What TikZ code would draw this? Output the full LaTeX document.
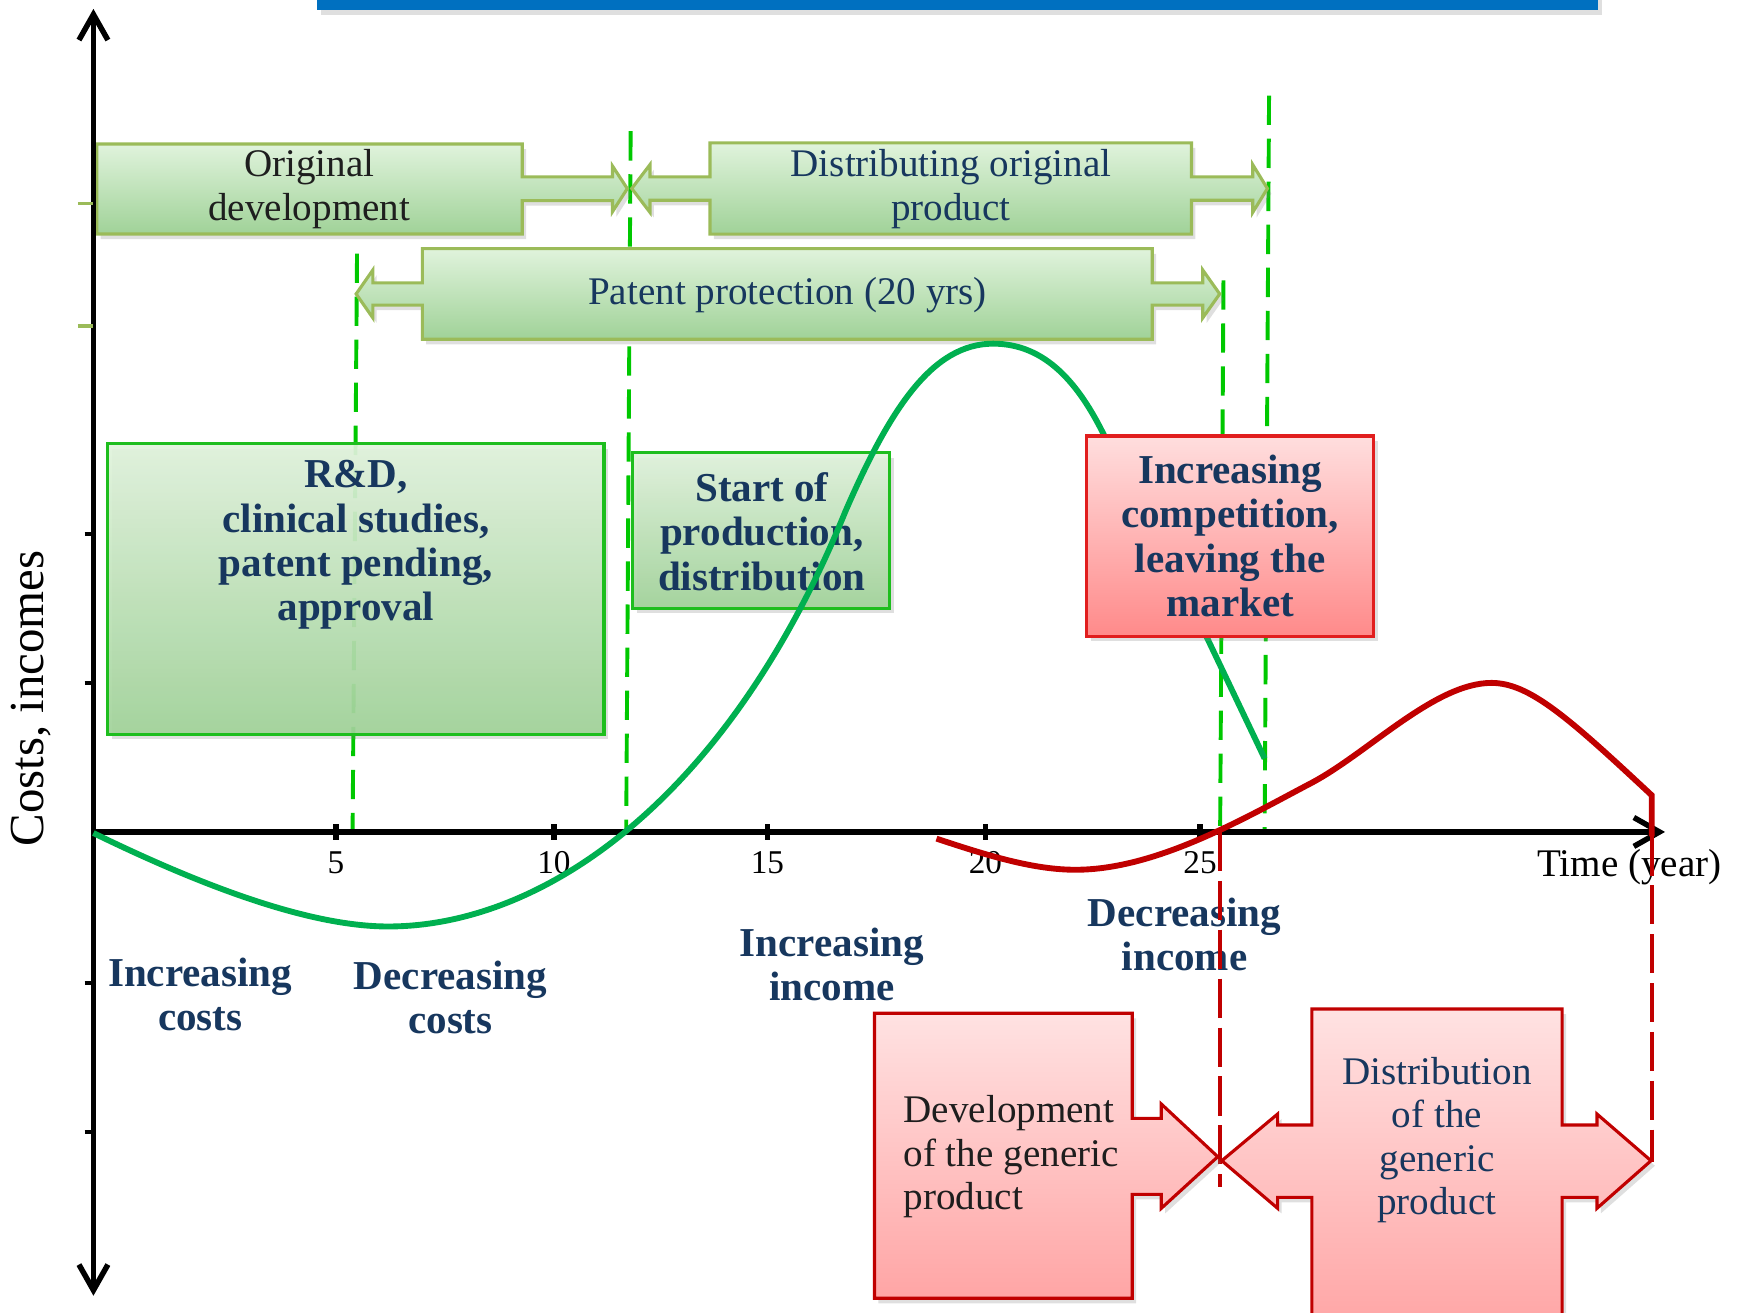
\documentclass[tikz,border=0pt]{standalone}
\usepackage{fontspec}
\setmainfont{Liberation Serif}
\usetikzlibrary{arrows.meta,shadows}

\definecolor{navy}{RGB}{23,55,94}
\definecolor{inkgray}{RGB}{30,30,30}
\definecolor{curvegreen}{RGB}{0,176,80}
\definecolor{dashgreen}{RGB}{0,200,0}
\definecolor{olivegreen}{RGB}{155,187,89}
\definecolor{boxgreen}{RGB}{30,190,30}
\definecolor{curvered}{RGB}{192,0,0}
\definecolor{boxred}{RGB}{225,30,30}
\definecolor{barblue}{RGB}{0,112,192}
\definecolor{greentop}{RGB}{224,243,220}
\definecolor{greenbot}{RGB}{160,210,152}
\definecolor{redtop}{RGB}{255,222,222}
\definecolor{redbot}{RGB}{255,138,138}
\definecolor{pinktop}{RGB}{255,226,226}
\definecolor{pinkbot}{RGB}{255,165,165}

\begin{document}
\begin{tikzpicture}[x=0.01cm,y=-0.01cm,line join=miter,
  shd/.style={drop shadow={shadow xshift=1pt,shadow yshift=-1.3pt,opacity=0.25}},
  garrow/.style={shd,draw=olivegreen,line width=0.8pt,top color=greentop,bottom color=greenbot},
  gbox/.style={shd,draw=boxgreen,line width=0.8pt,top color=greentop,bottom color=greenbot,fill opacity=0.92},
  rbox/.style={shd,draw=boxred,line width=0.8pt,top color=redtop,bottom color=redbot},
  rarrow/.style={shd,draw=curvered,line width=0.8pt,top color=pinktop,bottom color=pinkbot},
  gdash/.style={dashgreen,line width=1pt,dash pattern=on 7.5pt off 3.5pt},
  rdash/.style={curvered,line width=1pt,dash pattern=on 10pt off 2.5pt},
  yaxis/.style={line width=1.4pt,{Straight Barb[length=2.3mm,width=2.6mm]}-{Straight Barb[length=2.3mm,width=2.6mm]}},
  xaxis/.style={line width=1.4pt,-{Straight Barb[length=2.3mm,width=2.6mm]}},
  plain/.style={font=\fontsize{10}{11.1}\selectfont,align=center},
  bold/.style={font=\bfseries\fontsize{10.5}{11.35}\selectfont,text=navy,align=center},
  ticklbl/.style={font=\fontsize{8.5}{10}\selectfont}]
\useasboundingbox (0,0) rectangle (1568,1180);
\clip (0,0) rectangle (1568,1180);

\fill[barblue,shd] (285,-10) rectangle (1437,9);

% phase borders
\draw[gdash] (321,228) -- (317,748);
\draw[gdash] (567,118) -- (563,748);
\draw[gdash] (1100,252) -- (1097,748);
\draw[gdash] (1141,86) -- (1137,748);

% original product
\draw[garrow] (87,129.5) -- (469.6,129.5) -- (469.6,159) -- (550.7,159) -- (550.7,149.3) -- (564,169.6) -- (550.7,190.3) -- (550.7,180.4) -- (469.6,180.4) -- (469.6,210.4) -- (87,210.4) -- cycle;
\node[plain,text=inkgray] (origdev) at (278,170) {Original\\development};

\draw[garrow] (568,169.5) -- (584.4,148) -- (584.4,159) -- (638.4,159) -- (638.4,128.5) -- (1071.3,128.5) -- (1071.3,159) -- (1126.3,159) -- (1126.3,148) -- (1139.5,169.5) -- (1126.3,191) -- (1126.3,180) -- (1071.3,180) -- (1071.3,210.5) -- (638.4,210.5) -- (638.4,180) -- (584.4,180) -- (584.4,191) -- cycle;
\node[plain,text=navy] (distorig) at (855,170) {Distributing original\\product};

\draw[garrow] (320.2,264.3) -- (335.2,242.8) -- (335.2,254.3) -- (379.7,254.3) -- (379.7,223.6) -- (1036,223.6) -- (1036,254.3) -- (1081.4,254.3) -- (1081.4,242.8) -- (1096.6,264.3) -- (1081.4,285.8) -- (1081.4,274.3) -- (1036,274.3) -- (1036,305) -- (379.7,305) -- (379.7,274.3) -- (335.2,274.3) -- (335.2,285.8) -- cycle;
\node[plain,text=navy] (patent) at (708,265) {Patent protection (20 yrs)};

\draw[gbox] (97,399) rectangle (543,660);
\node[bold] (rnd) at (320,490) {R\&D,\\clinical studies,\\patent pending,\\approval};
\draw[gbox] (569,407) rectangle (800,547);
\node[bold] (startprod) at (685,478) {Start of\\production,\\distribution};

% axes
\coordinate (o) at (84,748);
\coordinate (ytop) at (84,8);
\coordinate (ybot) at (84,1165);
\coordinate (xtip) at (1497,748);
\draw[yaxis] (ybot) -- (ytop);
\draw[xaxis] (o) -- (xtip);
\foreach \x/\t in {302/5,498/10,690/15,886/20,1079/25} {
  \draw[line width=1.4pt] (\x,741) -- (\x,755);
  \node[ticklbl] (tick\t) at (\x,776) {\t};
}
\foreach \y in {480,614,884,1018} \draw[line width=1pt] (76,\y) -- (84,\y);
\foreach \y in {183,293} \draw[olivegreen,line width=1pt] (70,\y) -- (84,\y);
\node[font=\fontsize{12.5}{14}\selectfont,rotate=90] (ylbl) at (28,628) {Costs, incomes};
\node[plain] (xlbl) at (1465,780) {Time (year)};

% original product curve
\draw[curvegreen,line width=1.5pt] (84,749) .. controls (205,808) and (290,833) .. (349,833)
  .. controls (489,833) and (655,718) .. (760,460)
  .. controls (800,368) and (838,309) .. (893,309)
  .. controls (940,309) and (970,345) .. (993,392) -- (1086,575) -- (1137,682);

\draw[rbox] (977,392) rectangle (1235,572);
\node[bold] (compet) at (1106,482) {Increasing\\competition,\\leaving the\\market};

% generic product
\draw[curvered,line width=1.5pt] (842,754) .. controls (890,770) and (930,782) .. (967,782)
  .. controls (1040,782) and (1120,735) .. (1179,704)
  .. controls (1230,677) and (1290,614) .. (1341,614)
  .. controls (1375,614) and (1410,645) .. (1485,715) -- (1485,752);

\node[bold] (inccost) at (180,894) {Increasing\\costs};
\node[bold] (deccost) at (405,897) {Decreasing\\costs};
\node[bold] (incinc) at (748,867) {Increasing\\income};
\node[bold] (decinc) at (1065,840) {Decreasing\\income};

\draw[rdash] (1097,748) -- (1097,1067);
\draw[rdash] (1485,752) -- (1485,1045);

\draw[rarrow] (786.3,911) -- (1018,911) -- (1018,1005.5) -- (1044.1,1005.5) -- (1044.1,992.6) -- (1094.9,1040) -- (1044.1,1086.4) -- (1044.1,1073.8) -- (1018,1073.8) -- (1018,1167.3) -- (786.3,1167.3) -- cycle;
\node[plain,text=inkgray,align=left,anchor=west] (devgen) at (800,1040) {Development\\of the generic\\product};

\draw[rarrow] (1098.5,1043.6) -- (1148.7,1001.6) -- (1148.7,1011.5) -- (1179.5,1011.5) -- (1179.5,907.2) -- (1404.5,907.2) -- (1404.5,1011.5) -- (1435.8,1011.5) -- (1435.8,1001.6) -- (1484.4,1043.6) -- (1435.8,1086.4) -- (1435.8,1076.5) -- (1404.5,1076.5) -- (1404.5,1195) -- (1179.5,1195) -- (1179.5,1076.5) -- (1148.7,1076.5) -- (1148.7,1086.4) -- cycle;
\node[plain,text=navy] (distgen) at (1292,1025) {Distribution\\of the\\generic\\product};
\end{tikzpicture}
\end{document}
